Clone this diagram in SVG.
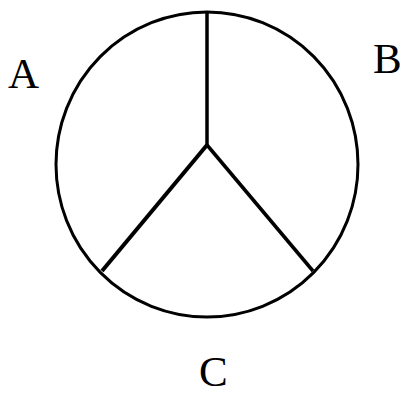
<svg xmlns="http://www.w3.org/2000/svg" width="403" height="396" viewBox="0 0 403 396">
<style>
.l{font-family:"Liberation Serif","Times New Roman",serif;font-size:43px;fill:#000}
.s{fill:none;stroke:#000;stroke-linecap:butt}
</style>
<rect width="403" height="396" fill="#fff"/>
<g id="circle"><ellipse class="s" cx="207" cy="164.5" rx="151" ry="152.5" stroke-width="3"/></g>
<g id="connectors">
<line class="s" x1="207" y1="12" x2="207" y2="145" stroke-width="3.5"/>
<line class="s" x1="207" y1="145" x2="102" y2="271" stroke-width="4"/>
<line class="s" x1="207" y1="145" x2="313" y2="271" stroke-width="3.5"/>
</g>
<g id="A"><text class="l" x="8" y="88">A</text></g>
<g id="B"><text class="l" x="373" y="73">B</text></g>
<g id="C"><text class="l" x="199" y="386">C</text></g>
</svg>
